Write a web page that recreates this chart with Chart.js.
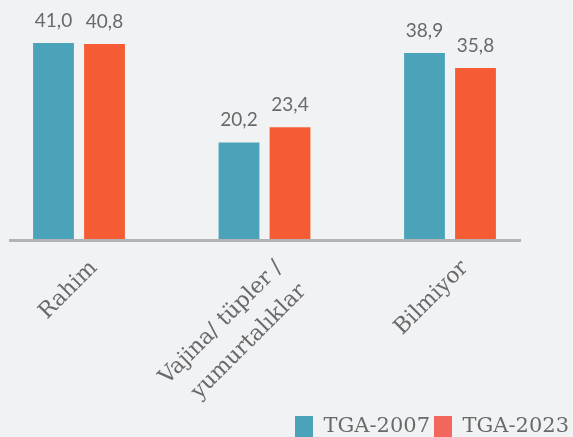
<!DOCTYPE html>
<html>
<head>
<meta charset="utf-8">
<script src="https://cdn.jsdelivr.net/npm/chart.js@4.4.0/dist/chart.umd.min.js"></script>
<style>
  html, body { margin: 0; padding: 0; background: #f1f2f4; }
  #wrap { width: 573px; height: 437px; }
</style>
</head>
<body>
<div id="wrap"><canvas id="chart"></canvas></div>
<script>
const categories = ['Rahim', ['Vajina/ tüpler /', 'yumurtalıklar'], 'Bilmiyor'];
const seriesNames = ['TGA-2007', 'TGA-2023'];
const tga2007 = [41.0, 20.2, 38.9];
const tga2023 = [40.8, 23.4, 35.8];

const barColors = ['#4aa3b8', '#f55c34'];
const legendColors = ['#4aa3b8', '#f3665c'];
const textGray = '#696969';
const slab = "'DejaVu Serif', serif";

// etiketler çubukların üstüne
const valueLabels = {
  id: 'valueLabels',
  afterDatasetsDraw(chart) {
    const ctx = chart.ctx;
    ctx.save();
    ctx.font = '19px Lato, sans-serif';
    ctx.fillStyle = textGray;
    ctx.textAlign = 'center';
    ctx.textBaseline = 'alphabetic';
    chart.data.datasets.forEach((ds, i) => {
      chart.getDatasetMeta(i).data.forEach((bar, j) => {
        const txt = ds.data[j].toFixed(1).replace('.', ',');
        ctx.fillText(txt, bar.x, bar.y - 16);
      });
    });
    ctx.restore();
  }
};

// alt eksen çizgisi
const baseLine = {
  id: 'baseLine',
  afterDatasetsDraw(chart) {
    const { ctx, chartArea } = chart;
    const y = chart.scales.y.getPixelForValue(0) + 1.5;
    ctx.save();
    ctx.strokeStyle = '#b3b3b3';
    ctx.lineWidth = 3;
    ctx.beginPath();
    ctx.moveTo(chartArea.left - 70, y);
    ctx.lineTo(chartArea.right + 71, y);
    ctx.stroke();
    ctx.restore();
  }
};

new Chart(document.getElementById('chart'), {
  type: 'bar',
  data: {
    labels: categories,
    datasets: [
      { label: seriesNames[0], data: tga2007, backgroundColor: barColors[0], clip: false },
      { label: seriesNames[1], data: tga2023, backgroundColor: barColors[1], clip: false }
    ]
  },
  options: {
    responsive: true,
    maintainAspectRatio: false,
    animation: false,
    categoryPercentage: 0.55,
    barPercentage: 0.8,
    layout: { padding: { top: 0, left: 0, right: 0, bottom: -10 } },
    plugins: {
      tooltip: { enabled: false },
      legend: {
        position: 'bottom',
        align: 'end',
        labels: {
          boxWidth: 18,
          boxHeight: 21,
          padding: 4,
          color: textGray,
          font: { family: slab, size: 21 },
          generateLabels(chart) {
            const items = Chart.defaults.plugins.legend.labels.generateLabels(chart);
            items.forEach((it, i) => { it.fillStyle = legendColors[i]; it.strokeStyle = legendColors[i]; it.lineWidth = 0; });
            return items;
          }
        }
      }
    },
    scales: {
      x: {
        offset: false,
        grid: { display: false },
        border: { display: false },
        ticks: {
          color: textGray,
          font: { family: slab, size: 22, lineHeight: 1.5 },
          minRotation: 45,
          maxRotation: 45,
          labelOffset: 15,
          padding: 6
        },
        afterFit(s) { s.height = 173; }
      },
      y: {
        min: 0,
        max: 50,
        grid: { display: false },
        border: { display: false },
        ticks: { display: false },
        afterFit(s) { s.width = 79; }
      },
      y2: {
        position: 'right',
        grid: { display: false },
        border: { display: false },
        ticks: { display: false },
        afterFit(s) { s.width = 123; }
      }
    }
  },
  plugins: [valueLabels, baseLine]
});
</script>
</body>
</html>
